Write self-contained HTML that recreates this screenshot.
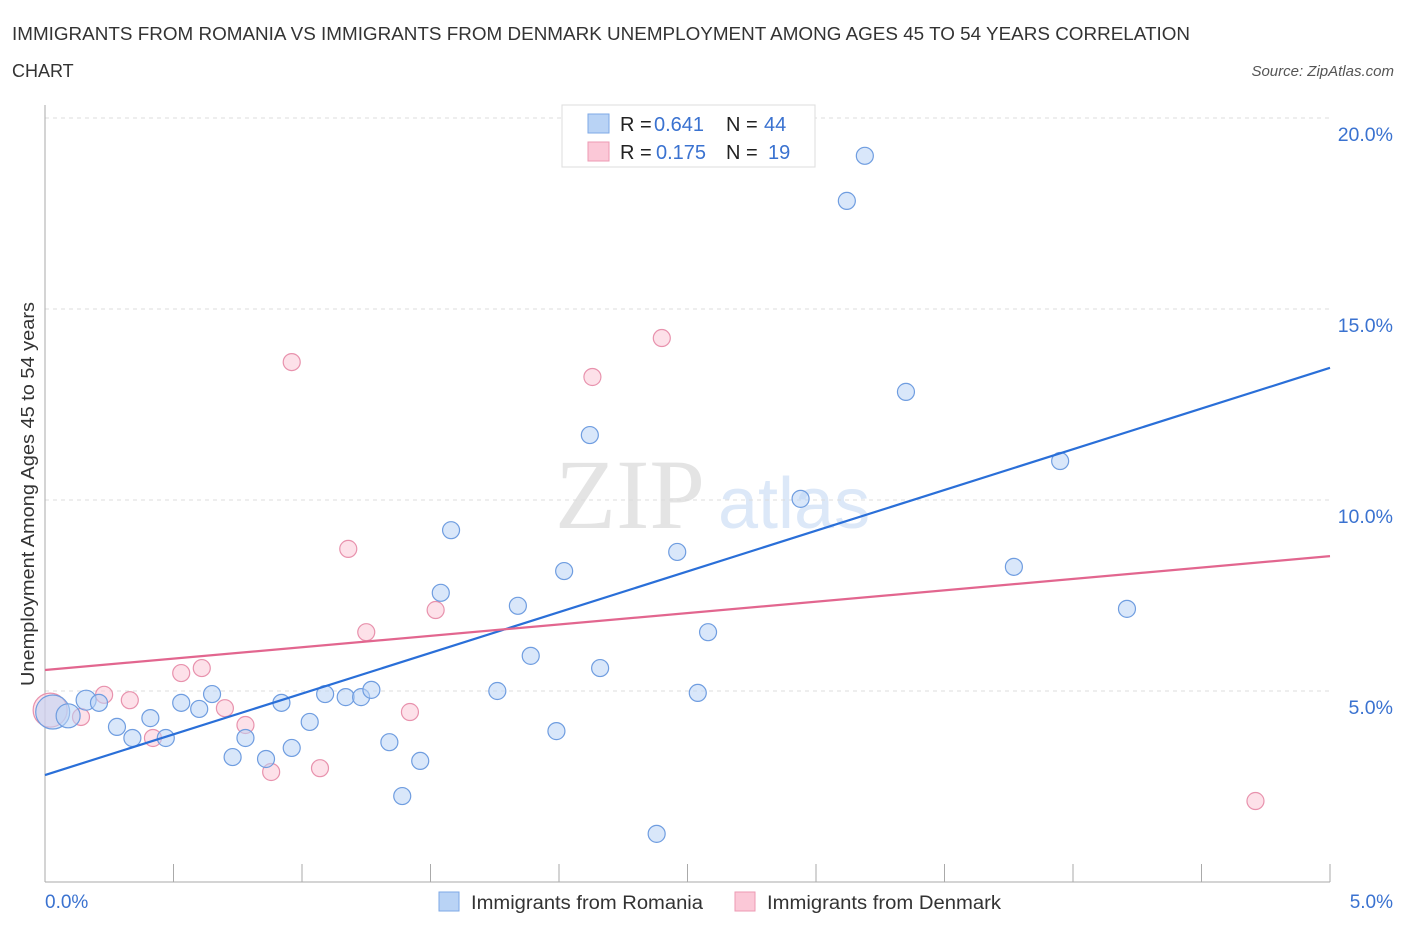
<!DOCTYPE html>
<html><head><meta charset="utf-8"><style>
body{margin:0;background:#fff;font-family:"Liberation Sans",sans-serif;}
svg{display:block}
</style></head><body>
<svg id="chart" width="1406" height="930" xmlns="http://www.w3.org/2000/svg">
<text x="12" y="40" font-size="18" fill="#333" textLength="1178" lengthAdjust="spacingAndGlyphs">IMMIGRANTS FROM ROMANIA VS IMMIGRANTS FROM DENMARK UNEMPLOYMENT AMONG AGES 45 TO 54 YEARS CORRELATION</text>
<text x="12" y="77" font-size="18" fill="#333">CHART</text>
<text x="1394" y="76" font-size="15" fill="#555" font-style="italic" text-anchor="end">Source: ZipAtlas.com</text>
<text x="555" y="528" font-size="100" fill="#e4e4e4" font-family="Liberation Serif,serif">ZIP</text>
<text x="718" y="528" font-size="72" fill="#dce8f8">atlas</text>
<g id="grid"></g>
<g id="axes"></g>
<g id="marks"></g>
<text transform="translate(34,494) rotate(-90)" font-size="18" fill="#333" text-anchor="middle" textLength="384" lengthAdjust="spacingAndGlyphs">Unemployment Among Ages 45 to 54 years</text>
<text x="45" y="908" font-size="19" fill="#3a72d0">0.0%</text>
<text x="1393" y="908" font-size="19" fill="#3a72d0" text-anchor="end">5.0%</text>
<g>
<rect x="562" y="105" width="253" height="62" fill="#fff" stroke="#ddd"/>
<rect x="588" y="114" width="21" height="19" fill="#b9d3f5" stroke="#7ea8e6"/>
<rect x="588" y="142" width="21" height="19" fill="#fbc8d7" stroke="#ec9ab3"/>
<text x="620" y="131" font-size="20" fill="#222">R =</text>
<text x="654" y="131" font-size="20" fill="#3a72d0">0.641</text>
<text x="726" y="131" font-size="20" fill="#222">N =</text>
<text x="764" y="131" font-size="20" fill="#3a72d0">44</text>
<text x="620" y="159" font-size="20" fill="#222">R =</text>
<text x="656" y="159" font-size="20" fill="#3a72d0">0.175</text>
<text x="726" y="159" font-size="20" fill="#222">N =</text>
<text x="768" y="159" font-size="20" fill="#3a72d0">19</text>
</g>
<g>
<rect x="439" y="892" width="20" height="19" fill="#b9d3f5" stroke="#7ea8e6"/>
<text x="471" y="909" font-size="19" fill="#333" textLength="232" lengthAdjust="spacingAndGlyphs">Immigrants from Romania</text>
<rect x="735" y="892" width="20" height="19" fill="#fbc8d7" stroke="#ec9ab3"/>
<text x="767" y="909" font-size="19" fill="#333" textLength="234" lengthAdjust="spacingAndGlyphs">Immigrants from Denmark</text>
</g>
</svg>
<script>
const yTicks=[5,10,15,20];
const yTickLabels=["5.0%","10.0%","15.0%","20.0%"];
const romaniaX=[0.03,0.09,0.16,0.21,0.28,0.34,0.41,0.47,0.53,0.60,0.65,0.73,0.78,0.86,0.92,0.96,1.03,1.09,1.17,1.23,1.27,1.34,1.39,1.46,1.54,1.58,1.76,1.84,1.89,1.99,2.02,2.12,2.16,2.38,2.46,2.54,2.58,2.94,3.12,3.19,3.35,3.77,3.95,4.21];
const romaniaY=[4.45,4.35,4.76,4.69,4.06,3.77,4.29,3.77,4.69,4.53,4.92,3.27,3.77,3.22,4.69,3.51,4.19,4.92,4.84,4.84,5.03,3.66,2.25,3.17,7.57,9.21,5.00,7.23,5.92,3.95,8.14,11.70,5.60,1.26,8.64,4.95,6.54,10.03,17.83,19.01,12.83,8.25,11.02,7.15];
const romaniaR=[17,12,10,8.5,8.5,8.5,8.5,8.5,8.5,8.5,8.5,8.5,8.5,8.5,8.5,8.5,8.5,8.5,8.5,8.5,8.5,8.5,8.5,8.5,8.5,8.5,8.5,8.5,8.5,8.5,8.5,8.5,8.5,8.5,8.5,8.5,8.5,8.5,8.5,8.5,8.5,8.5,8.5,8.5];
const denmarkX=[0.02,0.14,0.23,0.33,0.42,0.53,0.61,0.70,0.78,0.88,0.96,1.07,1.18,1.25,1.42,1.52,2.13,2.40,4.71];
const denmarkY=[4.50,4.32,4.90,4.76,3.77,5.47,5.60,4.55,4.11,2.88,13.61,2.98,8.72,6.54,4.45,7.12,13.22,14.24,2.12];
const denmarkR=[17,8.5,8.5,8.5,8.5,8.5,8.5,8.5,8.5,8.5,8.5,8.5,8.5,8.5,8.5,8.5,8.5,8.5,8.5];
const romaniaTrend=[2.80,13.46];
const denmarkTrend=[5.55,8.53];
const X0=45,X1=1330,Y0=882,Y20=118;
const sx=v=>X0+v/5*(X1-X0);
const sy=v=>Y0-v/20*(Y0-Y20);
const NS="http://www.w3.org/2000/svg";
function mk(tag,attrs,parent){const e=document.createElementNS(NS,tag);for(const k in attrs)e.setAttribute(k,attrs[k]);parent.appendChild(e);return e;}
const grid=document.getElementById('grid'),axes=document.getElementById('axes'),marks=document.getElementById('marks');
yTicks.forEach((t,i)=>{
  const l=mk('line',{x1:X0,x2:1330,y1:sy(t),y2:sy(t),stroke:'#ddd','stroke-dasharray':'4,4'},grid);
  
  
  const tx=mk('text',{x:1393,y:sy(t)+23,'font-size':19.5,fill:'#3a72d0','text-anchor':'end'},grid);
  tx.textContent=yTickLabels[i];
  
  
});
const ya=mk('line',{x1:X0,x2:X0,y1:105,y2:Y0,stroke:'#aaa'},axes);


const xa=mk('line',{x1:X0,x2:1330,y1:Y0,y2:Y0,stroke:'#aaa'},axes);


for(let i=1;i<=10;i++){
  const t=mk('line',{x1:sx(i*0.5),x2:sx(i*0.5),y1:Y0-18,y2:Y0,stroke:'#aaa'},axes);
  
  
}
function pts(xs,ys,rs,fill,stroke,name){
  xs.forEach((x,i)=>{
    const c=mk('circle',{cx:sx(x),cy:sy(ys[i]),r:rs[i],fill:fill,stroke:stroke,'stroke-width':1.2,'fill-opacity':0.55},marks);
    
    
  });
}
pts(denmarkX,denmarkY,denmarkR,'#fbc8d7','#e892ad','point-denmark');
pts(romaniaX,romaniaY,romaniaR,'#b9d3f5','#6f9de0','point-romania');
const bl=mk('line',{x1:sx(0),y1:sy(romaniaTrend[0]),x2:sx(5),y2:sy(romaniaTrend[1]),stroke:'#2a6fd8','stroke-width':2.2},marks);


const pl=mk('line',{x1:sx(0),y1:sy(denmarkTrend[0]),x2:sx(5),y2:sy(denmarkTrend[1]),stroke:'#e2668f','stroke-width':2.2},marks);


</script>
</body></html>
